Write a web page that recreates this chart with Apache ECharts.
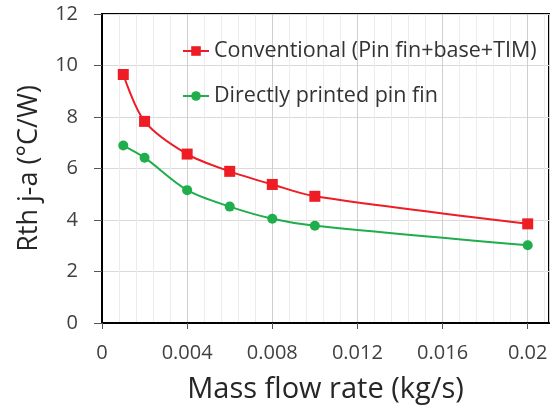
<!DOCTYPE html>
<html>
<head>
<meta charset="utf-8">
<script src="https://cdn.jsdelivr.net/npm/echarts@6/dist/echarts.min.js"></script>
<style>
  html, body { margin: 0; padding: 0; background: #fff; }
  #chart { width: 558px; height: 414px; }
</style>
</head>
<body>
<div id="chart"></div>
<script>
// mass flow rate (kg/s)
const flowRate = [0.001, 0.002, 0.004, 0.006, 0.008, 0.010, 0.020];
// Rth j-a (°C/W)
const conventional = [9.65, 7.83, 6.56, 5.89, 5.38, 4.92, 3.85];
const directPrinted = [6.89, 6.42, 5.16, 4.52, 4.05, 3.78, 3.02];

const FONT = '"Open Sans", "Liberation Sans", sans-serif';

const pairs = (xs, ys) => xs.map((x, i) => [x, ys[i]]);

const chart = echarts.init(document.getElementById('chart'));
chart.setOption({
  animation: false,
  textStyle: { fontFamily: FONT },
  grid: {
    left: 102, right: 9, top: 14, bottom: 91,
    show: true, borderColor: '#000', borderWidth: 2, backgroundColor: 'transparent'
  },
  legend: {
    orient: 'vertical',
    left: 177, top: 35,
    itemGap: 23,
    itemWidth: 26, itemHeight: 12,
    textStyle: { fontSize: 21.5, color: '#333', fontFamily: FONT },
    data: ['Conventional (Pin fin+base+TIM)', 'Directly printed pin fin']
  },
  xAxis: {
    type: 'value',
    min: 0, max: 0.021, interval: 0.004,
    name: 'Mass flow rate (kg/s)',
    nameLocation: 'middle', nameGap: 52,
    nameTextStyle: { fontSize: 29, color: '#262626', fontFamily: FONT },
    axisLine: { show: true, lineStyle: { color: '#000', width: 2 } },
    axisTick: { show: true, inside: false, length: 6, lineStyle: { color: '#555', width: 1 } },
    axisLabel: {
      fontSize: 20, color: '#404040', margin: 20,
      formatter: v => String(+v.toFixed(4)),
      showMaxLabel: false
    },
    splitLine: { show: true, lineStyle: { color: '#cfcfcf', width: 1 } },
    minorTick: { show: false, splitNumber: 5 },
    minorSplitLine: { show: true, lineStyle: { color: '#ececec', width: 1 } }
  },
  yAxis: {
    type: 'value',
    min: 0, max: 12, interval: 2,
    name: 'Rth j-a (°C/W)',
    nameLocation: 'middle', nameGap: 59,
    nameTextStyle: { fontSize: 27, color: '#262626', fontFamily: FONT },
    axisLine: { show: true, lineStyle: { color: '#000', width: 2 } },
    axisTick: { show: true, inside: false, length: 8, lineStyle: { color: '#555', width: 1 } },
    axisLabel: { fontSize: 20, color: '#404040', margin: 24 },
    splitLine: { show: true, lineStyle: { color: '#dadada', width: 1 } }
  },
  series: [
    {
      name: 'Conventional (Pin fin+base+TIM)',
      type: 'line',
      data: pairs(flowRate, conventional),
      smooth: 0.3,
      symbol: 'rect', symbolSize: 11,
      itemStyle: { color: '#ee1c24' },
      lineStyle: { color: '#ee1c24', width: 2 },
      z: 3
    },
    {
      name: 'Directly printed pin fin',
      type: 'line',
      data: pairs(flowRate, directPrinted),
      smooth: 0.3,
      symbol: 'circle', symbolSize: 10,
      itemStyle: { color: '#1fae4b' },
      lineStyle: { color: '#1fae4b', width: 2 },
      z: 2
    }
  ]
});
</script>
</body>
</html>
